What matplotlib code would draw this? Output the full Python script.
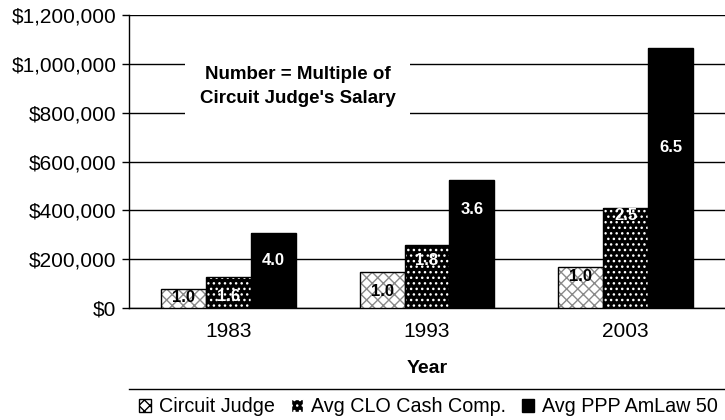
import matplotlib
matplotlib.use("Agg")
import matplotlib.pyplot as plt
from matplotlib.patches import Patch, Rectangle
from matplotlib.lines import Line2D
from matplotlib.ticker import FuncFormatter, MultipleLocator
import numpy as np

plt.rcParams['font.family'] = ['Liberation Sans', 'DejaVu Sans']

years = ['1983', '1993', '2003']
series = ['Circuit Judge', 'Avg CLO Cash Comp.', 'Avg PPP AmLaw 50']
judge = [77300, 146000, 168000]
clo = [128000, 258000, 410000]
ppp = [307000, 525000, 1066000]
multiples = [['1.0', '1.0', '1.0'],
             ['1.6', '1.8', '2.5'],
             ['4.0', '3.6', '6.5']]

# label drop below bar top, pixels (hand placed in the original)
drops = [[8, 19, 10], [20, 15, 8], [27, 30, 100]]

W, H = 725, 420
fig = plt.figure(figsize=(7.25, 4.2), dpi=100)
fig.patch.set_facecolor('white')
ax = fig.add_axes([129 / W, 112 / H, 596 / W, 293 / H])

x = np.arange(len(years))
bw = 0.226
styles = [
    dict(face='white', hcol='#8a8a8a', hatch='xxx'),
    dict(face='black', hcol='white', hatch='...'),
    dict(face='black', hcol='black', hatch=None),
]
txtcol = ['black', 'white', 'white']

for i, vals in enumerate([judge, clo, ppp]):
    xs = x + (i - 1) * bw
    st = styles[i]
    ax.bar(xs, vals, bw, color=st['face'], edgecolor=st['hcol'], hatch=st['hatch'],
           linewidth=0, zorder=3)
    ax.bar(xs, vals, bw, fill=False, edgecolor='black', linewidth=1, zorder=4)
    for j, v in enumerate(vals):
        ax.annotate(multiples[i][j], (xs[j], v), xytext=(0, -drops[i][j]),
                    textcoords='offset pixels', ha='center', va='center',
                    fontsize=12, fontweight='bold', color=txtcol[i], zorder=5)

ax.set_ylim(0, 1200000)
ax.set_xlim(-0.5, 2.5)
ax.yaxis.set_major_locator(MultipleLocator(200000))
ax.yaxis.set_major_formatter(FuncFormatter(lambda v, p: '${:,.0f}'.format(v)))
ax.set_xticks(x)
ax.set_xticklabels(years)
ax.tick_params(axis='x', length=0, labelsize=15, pad=10)
ax.tick_params(axis='y', length=5, width=1, labelsize=15, pad=4, direction='out')
ax.grid(axis='y', color='black', linewidth=1, zorder=0)
ax.set_axisbelow(True)
for s in ['top', 'right']:
    ax.spines[s].set_visible(False)
ax.spines['left'].set_linewidth(1)
ax.spines['bottom'].set_linewidth(1)
ax.set_xlabel('Year', fontsize=14, fontweight='bold', labelpad=14)

# note box
ax.add_patch(Rectangle((0.094, 0.635), 0.378, 0.25, transform=ax.transAxes,
                       facecolor='white', edgecolor='none', zorder=2))
ax.text(0.284, 0.755, "Number = Multiple of\nCircuit Judge's Salary", transform=ax.transAxes,
        ha='center', va='center', fontsize=13.5, fontweight='bold', linespacing=1.55, zorder=6)

fig.add_artist(Line2D([129 / W, 1.0], [31 / H, 31 / H], color='black', linewidth=1))

handles = [
    Patch(facecolor='white', edgecolor='black', hatch='xxx'),
    Patch(facecolor='black', edgecolor='white', hatch='...'),
    Patch(facecolor='black', edgecolor='black'),
]
fig.legend(handles, series, loc='center left', bbox_to_anchor=(139 / W, 13 / H), ncol=3,
           frameon=False, fontsize=14.2, handlelength=0.62, handleheight=0.62,
           handletextpad=0.4, columnspacing=0.8, borderaxespad=0, borderpad=0)

fig.savefig('out.png', dpi=100)
